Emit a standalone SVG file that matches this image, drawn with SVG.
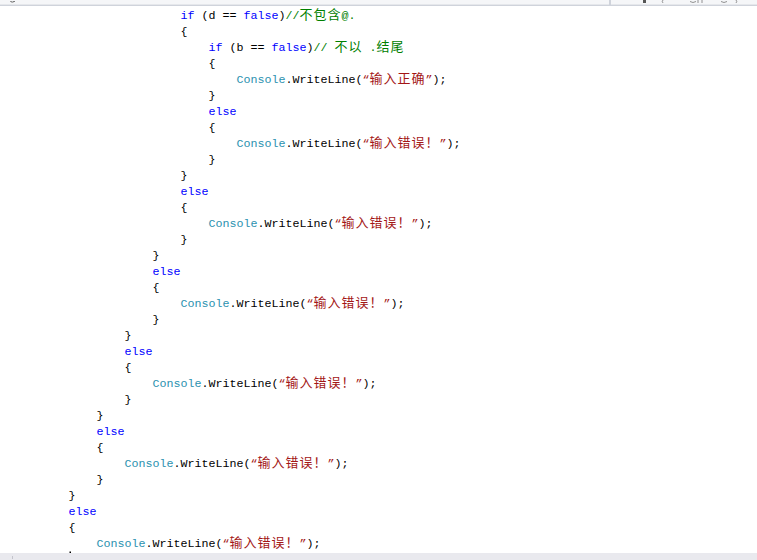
<svg xmlns="http://www.w3.org/2000/svg" width="757" height="560" viewBox="0 0 757 560">
<style>
.t{font-family:"Liberation Mono","DejaVu Sans Mono",monospace;font-size:11.67px;fill:#000;white-space:pre}
.k{fill:#0000ff}
.c{fill:#2b91af}
.s{fill:#a31515}
.g{fill:#008000}
.cj{font-family:"Noto Sans CJK SC","Noto Sans CJK JP",sans-serif;font-size:13px;letter-spacing:1px}
.frag{fill:#555}
</style>
<rect x="0" y="0" width="757" height="560" fill="#ffffff"/>
<g id="code" transform="translate(-0.5,0)">
<text class="t" x="181" y="19"><tspan class="k">if</tspan> (d == <tspan class="k">false</tspan>)<tspan class="g">//</tspan><tspan class="g cj" x="300">不包含</tspan><tspan class="g" x="342">@.</tspan></text>
<text class="t" x="181" y="35">{</text>
<text class="t" x="209" y="51"><tspan class="k">if</tspan> (b == <tspan class="k">false</tspan>)<tspan class="g">// </tspan><tspan class="g cj" x="335">不以</tspan><tspan class="g" x="363"> .</tspan><tspan class="g cj" x="377">结尾</tspan></text>
<text class="t" x="209" y="67">{</text>
<text class="t" x="237" y="83"><tspan class="c">Console</tspan>.WriteLine(<tspan class="s">“</tspan><tspan class="s cj" x="370">输入正确</tspan><tspan class="s" x="426">”</tspan>);</text>
<text class="t" x="209" y="99">}</text>
<text class="t k" x="209" y="115">else</text>
<text class="t" x="209" y="131">{</text>
<text class="t" x="237" y="147"><tspan class="c">Console</tspan>.WriteLine(<tspan class="s">“</tspan><tspan class="s cj" x="370">输入错误！</tspan><tspan class="s" x="440">”</tspan>);</text>
<text class="t" x="209" y="163">}</text>
<text class="t" x="181" y="179">}</text>
<text class="t k" x="181" y="195">else</text>
<text class="t" x="181" y="211">{</text>
<text class="t" x="209" y="227"><tspan class="c">Console</tspan>.WriteLine(<tspan class="s">“</tspan><tspan class="s cj" x="342">输入错误！</tspan><tspan class="s" x="412">”</tspan>);</text>
<text class="t" x="181" y="243">}</text>
<text class="t" x="153" y="259">}</text>
<text class="t k" x="153" y="275">else</text>
<text class="t" x="153" y="291">{</text>
<text class="t" x="181" y="307"><tspan class="c">Console</tspan>.WriteLine(<tspan class="s">“</tspan><tspan class="s cj" x="314">输入错误！</tspan><tspan class="s" x="384">”</tspan>);</text>
<text class="t" x="153" y="323">}</text>
<text class="t" x="125" y="339">}</text>
<text class="t k" x="125" y="355">else</text>
<text class="t" x="125" y="371">{</text>
<text class="t" x="153" y="387"><tspan class="c">Console</tspan>.WriteLine(<tspan class="s">“</tspan><tspan class="s cj" x="286">输入错误！</tspan><tspan class="s" x="356">”</tspan>);</text>
<text class="t" x="125" y="403">}</text>
<text class="t" x="97" y="419">}</text>
<text class="t k" x="97" y="435">else</text>
<text class="t" x="97" y="451">{</text>
<text class="t" x="125" y="467"><tspan class="c">Console</tspan>.WriteLine(<tspan class="s">“</tspan><tspan class="s cj" x="258">输入错误！</tspan><tspan class="s" x="328">”</tspan>);</text>
<text class="t" x="97" y="483">}</text>
<text class="t" x="69" y="499">}</text>
<text class="t k" x="69" y="515">else</text>
<text class="t" x="69" y="531">{</text>
<text class="t" x="97" y="547"><tspan class="c">Console</tspan>.WriteLine(<tspan class="s">“</tspan><tspan class="s cj" x="230">输入错误！</tspan><tspan class="s" x="300">”</tspan>);</text>
</g>
<g id="topbar">
<rect x="0" y="0" width="757" height="4.5" fill="#f5f6f8"/>
<rect x="0" y="4.5" width="757" height="1.5" fill="#cfd3db"/>
<rect x="609" y="0" width="2" height="5" fill="#cfd3db"/>
<path class="frag" d="M10,1.5 Q12,3.5 15,1.5 L15,1 L14,1 Q12,2.5 11,1 Z"/>
<rect class="frag" x="643" y="0" width="3" height="3" fill="#333"/>
<path d="M663,0 Q661.5,1.5 663,3" fill="none" stroke="#777" stroke-width="0.8"/>
<path d="M690,1.5 Q693,3.5 696,1.5 M698,0 L698,3 M702,0 L702,3" fill="none" stroke="#777" stroke-width="0.8"/>
<path d="M721,1.5 Q724,3.5 727,1.5" fill="none" stroke="#777" stroke-width="0.8"/>
<path d="M736,0 Q737.5,1.5 736,3" fill="none" stroke="#777" stroke-width="0.8"/>
</g>
<g id="bottombar">
<rect x="69.5" y="551.5" width="1.5" height="1.5" fill="#000"/>
<rect x="0" y="553" width="757" height="7" fill="#e9e9ee"/>
<rect x="12" y="556" width="1" height="3" fill="#c4c4cc"/>
</g>
</svg>
